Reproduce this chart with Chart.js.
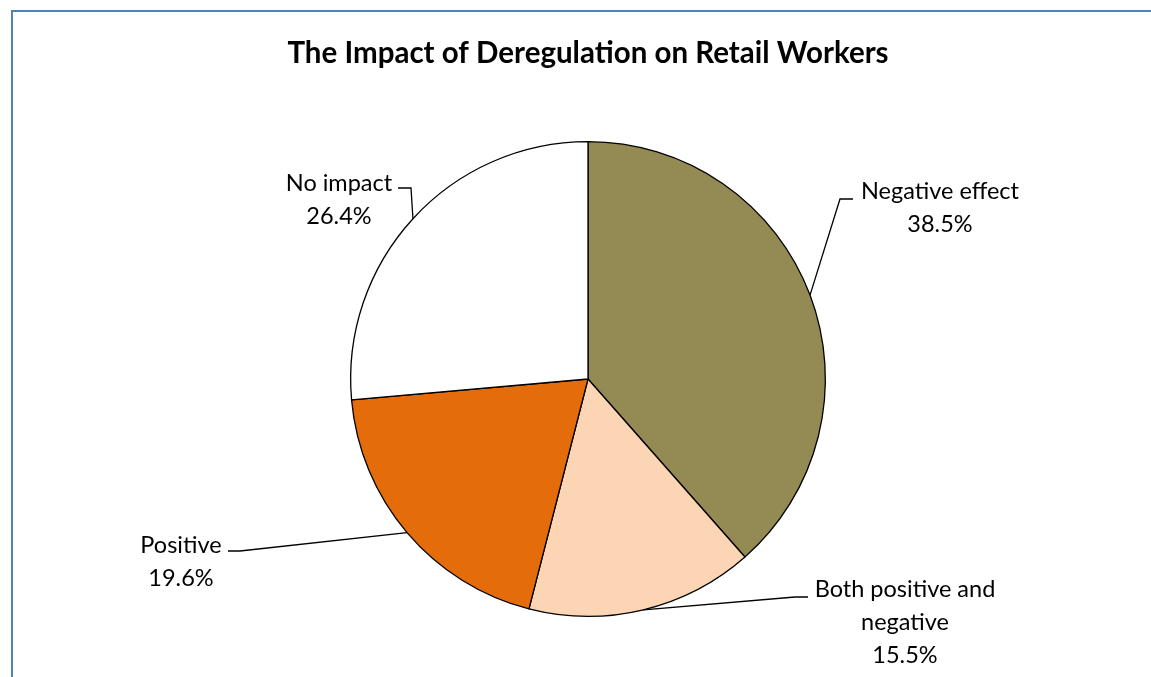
<!DOCTYPE html>
<html>
<head>
<meta charset="utf-8">
<script src="https://cdn.jsdelivr.net/npm/chart.js@4"></script>
<style>
  body { margin: 0; background: #fff; }
</style>
</head>
<body>
<canvas id="chartDesregulacion" width="1151" height="677"></canvas>
<script>
const categorias = ['Negative effect', 'Both positive and negative', 'Positive', 'No impact']
const porcentajes = [38.5, 15.5, 19.6, 26.4]
const etiquetas = [['Negative effect'], ['Both positive and', 'negative'], ['Positive'], ['No impact']]
const colores = ['#948A54', '#FCD5B5', '#E46C0A', '#FFFFFF']

// donde va cada etiqueta, relativo al centro del pastel
const posEtiquetas = [
    { tx: 352, ty: -188, codo: [252, -180], fin: [265, -180] },
    { tx: 317, ty: 210, codo: [207, 218], fin: [220, 218] },
    { tx: -407, ty: 166, codo: [-348, 172], fin: [-360, 172] },
    { tx: -249, ty: -196, codo: [-177, -191], fin: [-190, -191] }
]

const canvas = document.getElementById('chartDesregulacion')
const context = canvas.getContext('2d')

const marco = {
    id: 'marco',
    beforeDraw(chart) {
        const ctx = chart.ctx
        ctx.save()
        ctx.strokeStyle = '#4F81BD'
        ctx.lineWidth = 2
        ctx.beginPath()
        ctx.moveTo(12, chart.height)
        ctx.lineTo(12, 11)
        ctx.lineTo(chart.width, 11)
        ctx.stroke()
        ctx.restore()
    }
}

const etiquetasPastel = {
    id: 'etiquetasPastel',
    afterDraw(chart) {
        const ctx = chart.ctx
        const arcos = chart.getDatasetMeta(0).data
        ctx.save()
        ctx.font = '23.5px Lato'
        ctx.fillStyle = '#000'
        ctx.strokeStyle = '#000'
        ctx.lineWidth = 1.3
        ctx.textAlign = 'center'
        ctx.textBaseline = 'middle'
        arcos.forEach((arco, i) => {
            const { x, y, startAngle, endAngle, outerRadius } = arco.getProps(['x', 'y', 'startAngle', 'endAngle', 'outerRadius'])
            const medio = (startAngle + endAngle) / 2
            const p = posEtiquetas[i]
            ctx.beginPath()
            ctx.moveTo(x + Math.cos(medio) * outerRadius, y + Math.sin(medio) * outerRadius)
            ctx.lineTo(x + p.codo[0], y + p.codo[1])
            ctx.lineTo(x + p.fin[0], y + p.fin[1])
            ctx.stroke()
            const lineas = [...etiquetas[i], porcentajes[i].toFixed(1) + '%']
            lineas.forEach((linea, j) => {
                ctx.fillText(linea, x + p.tx, y + p.ty + j * 33)
            })
        })
        ctx.restore()
    }
}

const chartDesregulacion = new Chart(context, {
    type: 'pie',
    data: {
        labels: categorias,
        datasets: [
            {
                label: 'Share',
                data: porcentajes,
                backgroundColor: colores,
                borderColor: '#000',
                borderWidth: 1.3
            }
        ]
    },
    options: {
        responsive: false,
        devicePixelRatio: 1,
        animation: false,
        layout: {
            padding: { top: 0, left: 25, right: 0, bottom: 60 }
        },
        plugins: {
            legend: { display: false },
            tooltip: { enabled: false },
            title: {
                display: true,
                text: 'The Impact of Deregulation on Retail Workers',
                color: '#000',
                font: { family: 'Lato', size: 29.5, weight: 'bold', lineHeight: 1.2 },
                padding: { top: 35.3, bottom: 70.3 }
            }
        }
    },
    plugins: [marco, etiquetasPastel]
})
</script>
</body>
</html>
